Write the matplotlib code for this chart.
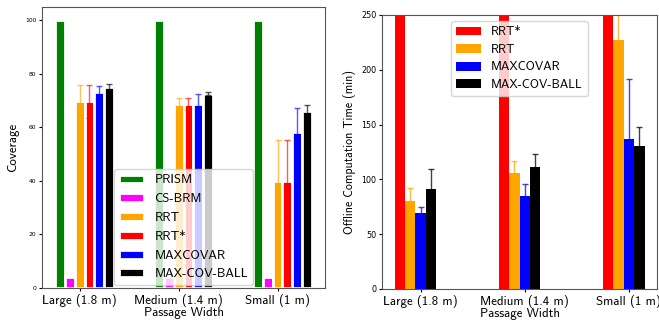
import numpy as np
import matplotlib
matplotlib.use('Agg')
import matplotlib.pyplot as plt

plt.rcParams['font.family'] = ['cmss10', 'DejaVu Sans']
plt.rcParams['axes.unicode_minus'] = False

groups = ['Large (1.8 m)', 'Medium (1.4 m)', 'Small (1 m)']

# 覆盖率
cov_prism = [100, 100, 100]
cov_csbrm = [4, 4, 4]
cov_rrt = [69.7, 68.7, 39.8]
cov_rrt_err = [6.2, 2.2, 15.4]
cov_rrtstar = [69.7, 68.7, 39.8]
cov_rrtstar_err = [6.2, 2.2, 15.4]
cov_maxcovar = [73.3, 68.9, 58.2]
cov_maxcovar_err = [2.2, 3.5, 9.0]
cov_ball = [75.0, 72.6, 66.2]
cov_ball_err = [1.1, 0.5, 2.1]

# 离线计算时间 (min)
t_rrtstar = [600, 650, 900]
t_rrtstar_err = [50, 50, 80]
t_rrt = [80.5, 106.0, 226.9]
t_rrt_err = [11.2, 11.0, 40.0]
t_maxcovar = [69.0, 84.4, 137.0]
t_maxcovar_err = [5.7, 11.3, 54.4]
t_ball = [91.1, 111.2, 130.3]
t_ball_err = [18.6, 11.8, 17.9]

fig = plt.figure(figsize=(6.59, 3.24), dpi=100)
ax1 = fig.add_axes([42/659, 36/324, 283/659, 281/324])
ax2 = fig.add_axes([382/659, 35/324, 275/659, 274/324])

x = np.arange(len(groups))
w = 0.1

left_series = [
    ('PRISM', cov_prism, None, 'green'),
    ('CS-BRM', cov_csbrm, None, 'magenta'),
    ('RRT', cov_rrt, cov_rrt_err, 'orange'),
    ('RRT*', cov_rrtstar, cov_rrtstar_err, 'red'),
    ('MAXCOVAR', cov_maxcovar, cov_maxcovar_err, 'blue'),
    ('MAX-COV-BALL', cov_ball, cov_ball_err, 'black'),
]
for k, (name, vals, err, c) in enumerate(left_series):
    ax1.bar(x + (k - 2) * w, vals, w, color=c, edgecolor='white', linewidth=2,
            label=name, yerr=err,
            error_kw=dict(ecolor=c, alpha=0.65, lw=1, capsize=2))

ax1.set_xticks(x)
ax1.set_xticklabels(groups, fontsize=9.3)
ax1.set_yticks([0, 20, 40, 60, 80, 100])
ax1.tick_params(axis='y', labelsize=4.3, length=2, pad=2)
for lab in ax1.get_yticklabels():
    lab.set_family('DejaVu Sans')
ax1.tick_params(axis='x', length=2, pad=2)
ax1.set_ylim(0, 105)
ax1.set_xlabel('Passage Width', fontsize=9.3, labelpad=0)
ax1.set_ylabel('Coverage', fontsize=9.3, labelpad=4)
ax1.legend(loc='lower center', fontsize=9.2, borderaxespad=0.2,
           labelspacing=0.53, fancybox=True)

right_series = [
    ('RRT*', t_rrtstar, t_rrtstar_err, 'red'),
    ('RRT', t_rrt, t_rrt_err, 'orange'),
    ('MAXCOVAR', t_maxcovar, t_maxcovar_err, 'blue'),
    ('MAX-COV-BALL', t_ball, t_ball_err, 'black'),
]
for k, (name, vals, err, c) in enumerate(right_series):
    ax2.bar(x + (k - 2) * w, vals, w, color=c, label=name, yerr=err,
            error_kw=dict(ecolor=c, alpha=0.75, lw=1, capsize=2))

ax2.set_xticks(x)
ax2.set_xticklabels(groups, fontsize=9.3)
ax2.set_yticks([0, 50, 100, 150, 200, 250])
ax2.tick_params(axis='y', labelsize=5.8, length=2, pad=2)
for lab in ax2.get_yticklabels():
    lab.set_family('DejaVu Sans')
ax2.tick_params(axis='x', length=2, pad=2)
ax2.set_ylim(0, 250)
ax2.set_xlabel('Passage Width', fontsize=9.3, labelpad=0)
ax2.set_ylabel('Offline Computation Time (min)', fontsize=8.6, labelpad=4)
ax2.legend(loc='upper center', fontsize=9, labelspacing=0.45)

for ax in (ax1, ax2):
    for s in ax.spines.values():
        s.set_color('#555555')

fig.savefig('out.png', dpi=100)
